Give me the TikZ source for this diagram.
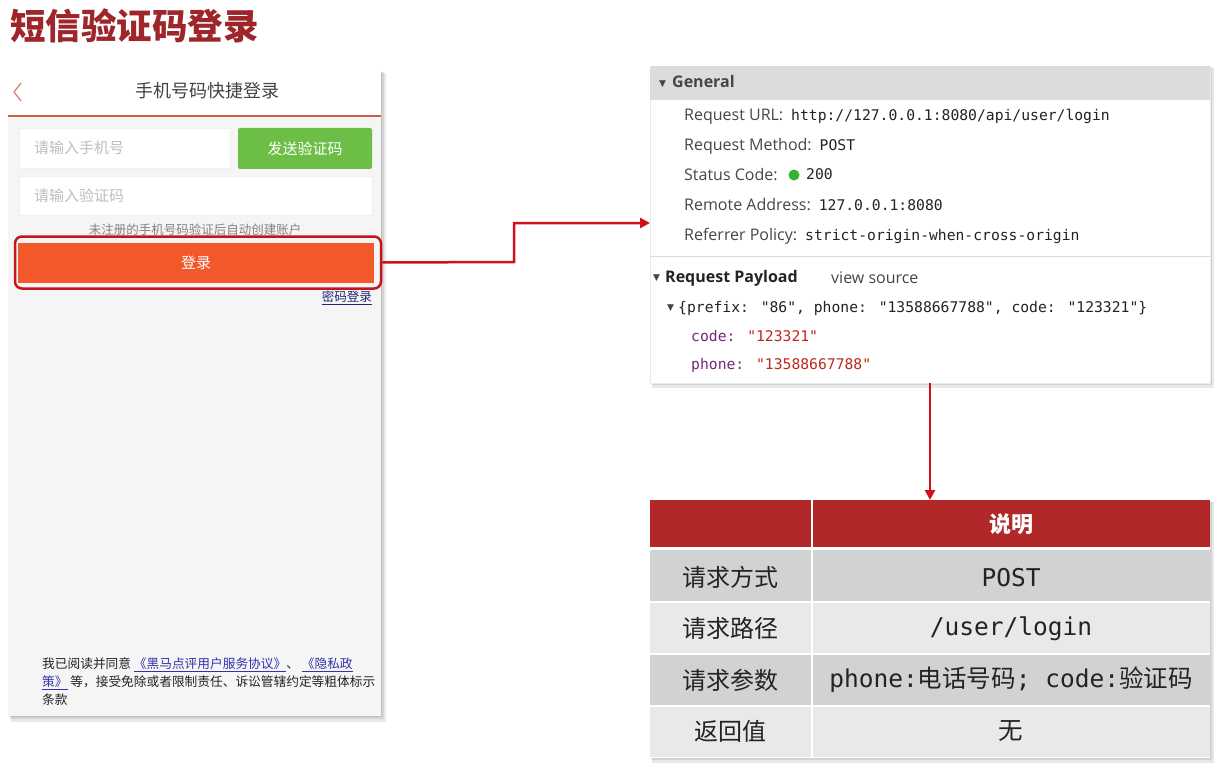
\documentclass[tikz,border=0pt]{standalone}
\usepackage{fontspec}
\setmainfont{Noto Sans CJK SC}
\newfontfamily\monof{DejaVu Sans Mono}
\newfontfamily\uif{Open Sans}
\newfontfamily\symf{DejaVu Sans}
\usetikzlibrary{arrows.meta,calc}
\newcommand\fsz[1]{\fontsize{#1}{#1}\selectfont}
\newcommand\lgap{\hspace{8pt}}
\definecolor{titlered}{RGB}{158,38,42}
\definecolor{arrowred}{RGB}{210,16,28}
\definecolor{hlred}{RGB}{196,20,30}
\definecolor{loginorange}{RGB}{242,88,42}
\definecolor{sendgreen}{RGB}{108,190,70}
\definecolor{phonebg}{RGB}{245,245,245}
\definecolor{hdrline}{RGB}{205,95,70}
\definecolor{backarrow}{RGB}{220,130,110}
\definecolor{phc}{RGB}{190,190,190}
\definecolor{hint}{RGB}{130,130,130}
\definecolor{linkblue}{RGB}{50,50,170}
\definecolor{genhdr}{RGB}{220,220,220}
\definecolor{lbl}{RGB}{70,70,70}
\definecolor{keyc}{RGB}{120,40,120}
\definecolor{valc}{RGB}{190,40,30}
\definecolor{tblred}{RGB}{178,40,40}
\definecolor{rowdark}{RGB}{210,210,210}
\definecolor{rowlight}{RGB}{233,233,233}
\definecolor{okgreen}{RGB}{50,180,50}
\definecolor{txtdark}{RGB}{35,35,35}
\tikzset{
  box/.style={anchor=north west, inner sep=0, outer sep=0},
  shadowA/.style={fill=black, opacity=0.09},
  lblnode/.style={anchor=mid west, inner sep=0, text=lbl, font=\uif\fsz{16}},
  monov/.style={anchor=mid west, inner sep=0, font=\monof\fsz{14.7}},
  tri/.style={anchor=mid west, inner sep=0, text=lbl, font=\symf\fsz{9}},
  cellL/.style={inner sep=0, text=txtdark, font=\fsz{24}},
  cellR/.style={inner sep=0, text=txtdark, font=\fsz{24.5}},
  arr/.style={draw=arrowred, line width=2.5, -{Triangle[length=10pt,width=10pt]}},
}
\begin{document}
\begin{tikzpicture}[x=1pt,y=-1pt]
\useasboundingbox (0,0) rectangle (1223,770);
\fill[white] (0,0) rectangle (1223,770);

% title
\node[anchor=west, inner sep=0, text=titlered, font=\bfseries\fsz{35.5}] (title) at (10,26) {短信验证码登录};

% ---------- phone panel ----------
\fill[shadowA] (11,73) rectangle (386,722);
\fill[shadowA] (10,72) rectangle (384,719);
\fill[shadowA] (9,71) rectangle (382,717);
\node[box, fill=phonebg, minimum width=373, minimum height=646] (phone) at (8,70) {};
\node[box, fill=white, minimum width=373, minimum height=46] (phhdr) at (8,70) {};
\draw[hdrline, line width=1.5] (phhdr.south west) -- (phhdr.south east);
\draw[backarrow, line width=1.3] (21,83) -- (14,92) -- (21,101);
\node[inner sep=0, text=txtdark!85, font=\fsz{18}] (phtitle) at (207,91) {手机号码快捷登录};

\node[box, fill=white, draw=black!6, minimum width=211, minimum height=40] (in1) at (19,128) {};
\node[anchor=west, inner sep=0, text=phc, font=\fsz{15}] (ph1) at ($(in1.west)+(15,0)$) {请输入手机号};
\node[box, fill=sendgreen, rounded corners=2, minimum width=134, minimum height=41, text=white, font=\fsz{15}] (send) at (238,128) {发送验证码};
\node[box, fill=white, draw=black!6, minimum width=353, minimum height=39] (in2) at (19,176) {};
\node[anchor=west, inner sep=0, text=phc, font=\fsz{15}] (ph2) at ($(in2.west)+(15,0)$) {请输入验证码};
\node[inner sep=0, text=hint, font=\fsz{12.5}] (hinttxt) at (195,230) {未注册的手机号码验证后自动创建账户};

\node[box, fill=loginorange, minimum width=356, minimum height=40, text=white, font=\fsz{15}] (login) at (18,243) {登录};
\node[draw=hlred, line width=2.5, rounded corners=7, minimum width=366, minimum height=52, inner sep=0] (hl) at (198,262.5) {};
\node[anchor=east, inner sep=0, text=linkblue!70!black, font=\fsz{12.5}] (pwd) at (372,298) {\underline{密码登录}};

\node[anchor=north west, inner sep=0, text=txtdark, font=\fsz{12.7}, align=left] (agree) at (42,658) {%
我已阅读并同意 \textcolor{linkblue}{\underline{《黑马点评用户服务协议》}}、 \textcolor{linkblue}{\underline{《隐私政}}\\[3pt]
\textcolor{linkblue}{\underline{策》}} 等，接受免除或者限制责任、诉讼管辖约定等粗体标示\\[3pt]
条款};

% ---------- devtools panel ----------
\fill[shadowA] (652,68) rectangle (1214,388);
\fill[shadowA] (651,67) rectangle (1212,385);
\node[box, fill=white, draw=black!8, minimum width=560, minimum height=317] (gen) at (650,66) {};
\node[box, fill=genhdr, minimum width=560, minimum height=34] (genh) at (650,66) {};
\node[tri] (t1) at (659,84) {▼};
\node[lblnode, font=\uif\bfseries\fsz{16}] (gtitle) at (672,85) {General};

\node[lblnode] (l1) at (684,118) {Request URL:\lgap{\monof\fsz{14.7}\color{txtdark}http://127.0.0.1:8080/api/user/login}};
\node[lblnode] (l2) at (684,148) {Request Method:\lgap{\monof\fsz{14.7}\color{txtdark}POST}};
\node[lblnode] (l3) at (684,178) {Status Code:};
\fill[okgreen] (794,175) circle (5.5);
\node[monov, text=txtdark] (l3v) at (806,177) {200};
\node[lblnode] (l4) at (684,208) {Remote Address:\lgap{\monof\fsz{14.7}\color{txtdark}127.0.0.1:8080}};
\node[lblnode] (l5) at (684,238) {Referrer Policy:\lgap{\monof\fsz{14.7}\color{txtdark}strict-origin-when-cross-origin}};

\draw[black!15, line width=1] (650,256) -- (1210,256);
\node[tri] (t2) at (653,278) {▼};
\node[lblnode, font=\uif\bfseries\fsz{16}, text=txtdark] (payload) at (665,280) {Request Payload};
\node[lblnode, text=lbl] (vsrc) at (831,281) {view source};
\node[tri] (t3) at (667,308) {▼};
\node[monov, text=txtdark] (obj) at (678,310) {\{prefix: "86", phone: "13588667788", code: "123321"\}};
\node[monov] (code) at (691,339) {\textcolor{keyc}{code:} \textcolor{valc}{"123321"}};
\node[monov] (phonev) at (691,367) {\textcolor{keyc}{phone:} \textcolor{valc}{"13588667788"}};

% ---------- table ----------
\fill[shadowA] (652,502) rectangle (1214,763);
\fill[shadowA] (651,501) rectangle (1212,760);
\node[box, fill=white, minimum width=560, minimum height=258] (tbl) at (650,500) {};
\node[box, fill=tblred, minimum width=560, minimum height=47] (th) at (650,500) {};
\node[box, fill=rowdark, minimum width=560, minimum height=51] (r1) at (650,550) {};
\node[box, fill=rowlight, minimum width=560, minimum height=50] (r2) at (650,603) {};
\node[box, fill=rowdark, minimum width=560, minimum height=50] (r3) at (650,655) {};
\node[box, fill=rowlight, minimum width=560, minimum height=50] (r4) at (650,707) {};
\draw[white, line width=1.5] (812,500) -- (812,758);
\node[inner sep=0, text=white, font=\bfseries\fsz{22}] (hdr) at (1011,524) {说明};
\node[cellL] (a1) at (730,577) {请求方式};
\node[cellR] (b1) at (1011,578) {\monof POST};
\node[cellL] (a2) at (730,628) {请求路径};
\node[cellR] (b2) at (1011,629) {\monof /user/login};
\node[cellL] (a3) at (730,680) {请求参数};
\node[cellR] (b3) at (1011,680) {{\monof phone:}电话号码{\monof ; code:}验证码};
\node[cellL] (a4) at (730,731) {返回值};
\node[cellR] (b4) at (1011,731) {无};

% ---------- connectors ----------
\coordinate (k1) at (514,262);
\coordinate (k2) at (514,223);
\draw[arr] (hl.east) -- (k1) -- (k2) -- (gen.west |- k2);
\coordinate (k3) at (930,383);
\draw[arr] (gen.south -| k3) -- (tbl.north -| k3);
\end{tikzpicture}
\end{document}
